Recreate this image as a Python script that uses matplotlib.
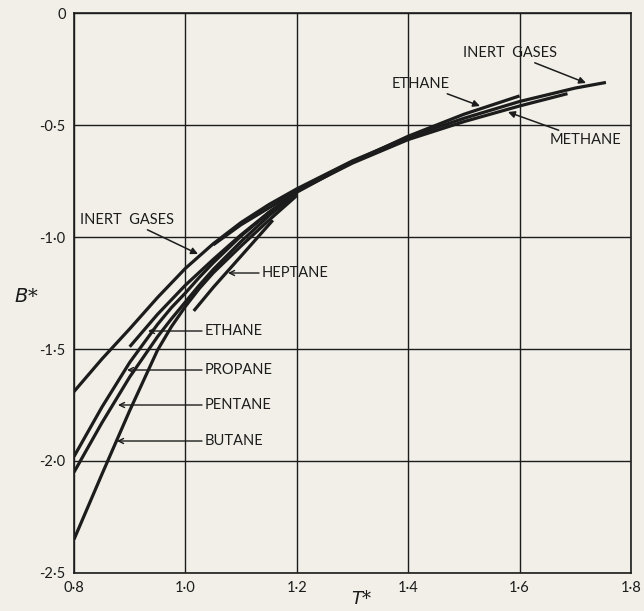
import matplotlib
matplotlib.use("Agg")
import matplotlib.pyplot as plt

# reduced second virial coefficient B* against reduced temperature T*
inert_T = [0.80, 0.85, 0.90, 0.95, 1.00, 1.05, 1.10, 1.15, 1.20, 1.30, 1.40, 1.50, 1.60, 1.70, 1.755]
inert_B = [-1.69, -1.545, -1.41, -1.27, -1.14, -1.03, -0.935, -0.855, -0.785, -0.66, -0.555, -0.47, -0.395, -0.335, -0.31]

ethane_T = [0.90, 0.95, 1.00, 1.05, 1.10, 1.15, 1.20, 1.30, 1.40, 1.50, 1.60]
ethane_B = [-1.49, -1.345, -1.215, -1.10, -0.99, -0.89, -0.80, -0.665, -0.55, -0.452, -0.37]

methane_T = [1.05, 1.10, 1.20, 1.30, 1.40, 1.50, 1.60, 1.686]
methane_B = [-1.035, -0.945, -0.795, -0.67, -0.565, -0.485, -0.415, -0.36]

heavy_T = [0.80, 0.85, 0.90, 0.95, 0.975, 1.00, 1.025, 1.05, 1.10, 1.15, 1.20]
propane_B = [-1.98, -1.76, -1.56, -1.39, -1.315, -1.25, -1.18, -1.115, -0.995, -0.89, -0.80]
pentane_B = [-2.05, -1.83, -1.625, -1.445, -1.365, -1.29, -1.215, -1.145, -1.02, -0.905, -0.805]
butane_B = [-2.35, -2.06, -1.775, -1.505, -1.40, -1.31, -1.23, -1.16, -1.04, -0.925, -0.815]

heptane_T = [1.015, 1.05, 1.10, 1.157]
heptane_B = [-1.33, -1.225, -1.085, -0.925]

x_ticks = [0.8, 1.0, 1.2, 1.4, 1.6, 1.8]
x_labels = ["0·8", "1·0", "1·2", "1·4", "1·6", "1·8"]
y_ticks = [0, -0.5, -1.0, -1.5, -2.0, -2.5]
y_labels = ["0", "-0·5", "-1·0", "-1·5", "-2·0", "-2·5"]

paper = "#f1efe7"
ink = "#1c1c1c"
plt.rcParams['font.family'] = ['Lato', 'DejaVu Sans']

fig = plt.figure(figsize=(6.44, 6.11), dpi=100, facecolor=paper)
ax = fig.add_axes([0.1149, 0.0622, 0.8649, 0.9165])
ax.set_facecolor(paper)

ax.set_xlim(0.8, 1.8)
ax.set_ylim(-2.5, 0)
ax.set_xticks(x_ticks)
ax.set_xticklabels(x_labels)
ax.set_yticks(y_ticks)
ax.set_yticklabels(y_labels)
ax.tick_params(length=0, pad=6, labelsize=10.5, colors=ink)
ax.grid(True, color=ink, lw=1.0)
for s in ax.spines.values():
    s.set_color(ink)
    s.set_linewidth(1.2)

curve = dict(color=ink, lw=2.3, solid_capstyle='butt')
ax.plot(inert_T, inert_B, **curve)
ax.plot(ethane_T, ethane_B, **curve)
ax.plot(methane_T, methane_B, **curve)
ax.plot(heavy_T, propane_B, **curve)
ax.plot(heavy_T, pentane_B, **curve)
ax.plot(heavy_T, butane_B, **curve)
ax.plot(heptane_T, heptane_B, **curve)


def px(x, y):
    # pixel position on the sheet -> data coordinates
    return 0.8 + (x - 74) / 557.0, -(y - 13) / 224.0


lab = dict(fontsize=10.5, color=ink, va='center')
arrow_diag = dict(arrowstyle='-|>', color=ink, lw=1.1, mutation_scale=10, shrinkA=0, shrinkB=0)
arrow_flat = dict(arrowstyle='->', color=ink, lw=1.0, mutation_scale=9, shrinkA=0, shrinkB=0)

# labels at the upper end of the curves
ax.annotate("INERT  GASES", xy=px(586, 83), xytext=px(463, 53), ha='left',
            arrowprops=arrow_diag, **lab)
ax.annotate("ETHANE", xy=px(480, 106), xytext=px(392, 84), ha='left',
            arrowprops=arrow_diag, **lab)
ax.annotate("METHANE", xy=px(508, 112), xytext=px(550, 140), ha='left',
            arrowprops=arrow_diag, **lab)
ax.annotate("INERT  GASES", xy=px(198, 254), xytext=px(80, 220), ha='left',
            arrowprops=arrow_diag, **lab)

# labels at the lower end, with horizontal leaders
for name, tip, y in [("HEPTANE", 228, 273), ("ETHANE", 148, 331), ("PROPANE", 127, 370),
                     ("PENTANE", 118, 405), ("BUTANE", 117, 441)]:
    x0 = 262 if name == "HEPTANE" else 205
    ax.annotate("", xy=px(tip, y), xytext=px(x0 - 3, y), arrowprops=arrow_flat)
    ax.text(*px(x0, y), name, ha='left', **lab)

fig.text(26 / 644, 1 - 297 / 611, "$B$*", fontsize=14, ha='center', va='center',
         family='DejaVu Serif', style='italic', color=ink)
fig.text(362 / 644, 1 - 599 / 611, "$T$*", fontsize=13, ha='center', va='center',
         family='DejaVu Serif', style='italic', color=ink)

fig.savefig("out.png", dpi=100, facecolor=paper)
